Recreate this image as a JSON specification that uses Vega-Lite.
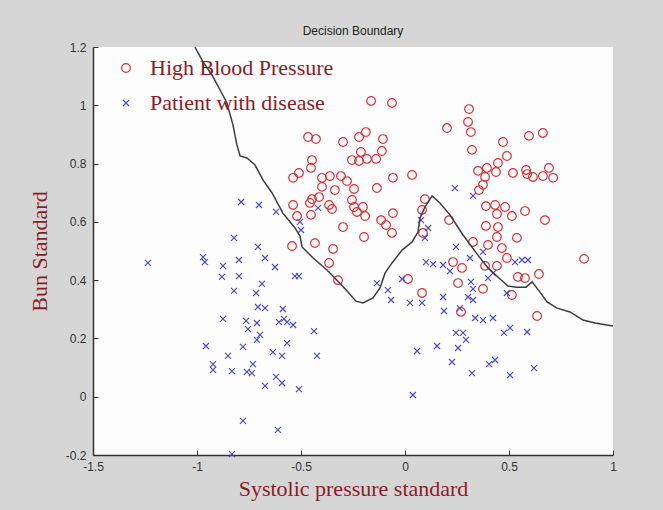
{
  "$schema": "https://vega.github.io/schema/vega-lite/v6.json",
  "width": 520,
  "height": 408,
  "autosize": {"type": "none"},
  "padding": {"left": 93, "top": 47, "right": 50, "bottom": 55},
  "background": "#d6d6d6",
  "config": {"view": {"fill": "#fdfdfd", "stroke": null}},
  "title": {"text": "Decision Boundary", "fontSize": 12, "font": "Liberation Sans", "fontWeight": "normal", "color": "#222222", "offset": 3},
  "datasets": {
    "points": [
      {"x": -0.163, "y": 1.015, "c": "High Blood Pressure"},
      {"x": -0.0625, "y": 1.008, "c": "High Blood Pressure"},
      {"x": -0.466, "y": 0.891, "c": "High Blood Pressure"},
      {"x": -0.428, "y": 0.884, "c": "High Blood Pressure"},
      {"x": -0.298, "y": 0.874, "c": "High Blood Pressure"},
      {"x": -0.221, "y": 0.891, "c": "High Blood Pressure"},
      {"x": -0.188, "y": 0.908, "c": "High Blood Pressure"},
      {"x": -0.106, "y": 0.884, "c": "High Blood Pressure"},
      {"x": -0.111, "y": 0.843, "c": "High Blood Pressure"},
      {"x": -0.212, "y": 0.84, "c": "High Blood Pressure"},
      {"x": -0.255, "y": 0.812, "c": "High Blood Pressure"},
      {"x": -0.221, "y": 0.809, "c": "High Blood Pressure"},
      {"x": -0.183, "y": 0.816, "c": "High Blood Pressure"},
      {"x": -0.139, "y": 0.816, "c": "High Blood Pressure"},
      {"x": -0.447, "y": 0.812, "c": "High Blood Pressure"},
      {"x": -0.452, "y": 0.785, "c": "High Blood Pressure"},
      {"x": -0.538, "y": 0.751, "c": "High Blood Pressure"},
      {"x": -0.51, "y": 0.768, "c": "High Blood Pressure"},
      {"x": -0.399, "y": 0.751, "c": "High Blood Pressure"},
      {"x": -0.361, "y": 0.757, "c": "High Blood Pressure"},
      {"x": -0.308, "y": 0.757, "c": "High Blood Pressure"},
      {"x": -0.279, "y": 0.74, "c": "High Blood Pressure"},
      {"x": -0.399, "y": 0.72, "c": "High Blood Pressure"},
      {"x": -0.337, "y": 0.709, "c": "High Blood Pressure"},
      {"x": -0.245, "y": 0.713, "c": "High Blood Pressure"},
      {"x": -0.135, "y": 0.716, "c": "High Blood Pressure"},
      {"x": -0.058, "y": 0.751, "c": "High Blood Pressure"},
      {"x": 0.034, "y": 0.761, "c": "High Blood Pressure"},
      {"x": -0.447, "y": 0.678, "c": "High Blood Pressure"},
      {"x": -0.413, "y": 0.685, "c": "High Blood Pressure"},
      {"x": -0.538, "y": 0.658, "c": "High Blood Pressure"},
      {"x": -0.457, "y": 0.665, "c": "High Blood Pressure"},
      {"x": -0.365, "y": 0.658, "c": "High Blood Pressure"},
      {"x": -0.255, "y": 0.675, "c": "High Blood Pressure"},
      {"x": -0.245, "y": 0.651, "c": "High Blood Pressure"},
      {"x": -0.202, "y": 0.651, "c": "High Blood Pressure"},
      {"x": -0.519, "y": 0.62, "c": "High Blood Pressure"},
      {"x": -0.452, "y": 0.624, "c": "High Blood Pressure"},
      {"x": -0.351, "y": 0.644, "c": "High Blood Pressure"},
      {"x": -0.231, "y": 0.634, "c": "High Blood Pressure"},
      {"x": -0.192, "y": 0.62, "c": "High Blood Pressure"},
      {"x": -0.115, "y": 0.606, "c": "High Blood Pressure"},
      {"x": -0.091, "y": 0.589, "c": "High Blood Pressure"},
      {"x": -0.0625, "y": 0.562, "c": "High Blood Pressure"},
      {"x": -0.058, "y": 0.63, "c": "High Blood Pressure"},
      {"x": -0.298, "y": 0.582, "c": "High Blood Pressure"},
      {"x": -0.197, "y": 0.548, "c": "High Blood Pressure"},
      {"x": -0.543, "y": 0.517, "c": "High Blood Pressure"},
      {"x": -0.433, "y": 0.527, "c": "High Blood Pressure"},
      {"x": -0.346, "y": 0.507, "c": "High Blood Pressure"},
      {"x": -0.365, "y": 0.459, "c": "High Blood Pressure"},
      {"x": -0.322, "y": 0.4, "c": "High Blood Pressure"},
      {"x": 0.096, "y": 0.678, "c": "High Blood Pressure"},
      {"x": 0.082, "y": 0.641, "c": "High Blood Pressure"},
      {"x": 0.202, "y": 0.922, "c": "High Blood Pressure"},
      {"x": 0.308, "y": 0.987, "c": "High Blood Pressure"},
      {"x": 0.303, "y": 0.943, "c": "High Blood Pressure"},
      {"x": 0.317, "y": 0.908, "c": "High Blood Pressure"},
      {"x": 0.322, "y": 0.847, "c": "High Blood Pressure"},
      {"x": 0.471, "y": 0.874, "c": "High Blood Pressure"},
      {"x": 0.596, "y": 0.895, "c": "High Blood Pressure"},
      {"x": 0.663, "y": 0.905, "c": "High Blood Pressure"},
      {"x": 0.49, "y": 0.826, "c": "High Blood Pressure"},
      {"x": 0.447, "y": 0.802, "c": "High Blood Pressure"},
      {"x": 0.351, "y": 0.775, "c": "High Blood Pressure"},
      {"x": 0.394, "y": 0.785, "c": "High Blood Pressure"},
      {"x": 0.4375, "y": 0.771, "c": "High Blood Pressure"},
      {"x": 0.519, "y": 0.768, "c": "High Blood Pressure"},
      {"x": 0.582, "y": 0.778, "c": "High Blood Pressure"},
      {"x": 0.587, "y": 0.764, "c": "High Blood Pressure"},
      {"x": 0.615, "y": 0.754, "c": "High Blood Pressure"},
      {"x": 0.663, "y": 0.757, "c": "High Blood Pressure"},
      {"x": 0.692, "y": 0.785, "c": "High Blood Pressure"},
      {"x": 0.712, "y": 0.751, "c": "High Blood Pressure"},
      {"x": 0.385, "y": 0.754, "c": "High Blood Pressure"},
      {"x": 0.375, "y": 0.727, "c": "High Blood Pressure"},
      {"x": 0.356, "y": 0.709, "c": "High Blood Pressure"},
      {"x": 0.389, "y": 0.654, "c": "High Blood Pressure"},
      {"x": 0.433, "y": 0.658, "c": "High Blood Pressure"},
      {"x": 0.481, "y": 0.651, "c": "High Blood Pressure"},
      {"x": 0.442, "y": 0.627, "c": "High Blood Pressure"},
      {"x": 0.514, "y": 0.62, "c": "High Blood Pressure"},
      {"x": 0.577, "y": 0.637, "c": "High Blood Pressure"},
      {"x": 0.673, "y": 0.606, "c": "High Blood Pressure"},
      {"x": 0.212, "y": 0.606, "c": "High Blood Pressure"},
      {"x": 0.389, "y": 0.586, "c": "High Blood Pressure"},
      {"x": 0.447, "y": 0.582, "c": "High Blood Pressure"},
      {"x": 0.0865, "y": 0.562, "c": "High Blood Pressure"},
      {"x": 0.538, "y": 0.545, "c": "High Blood Pressure"},
      {"x": 0.442, "y": 0.548, "c": "High Blood Pressure"},
      {"x": 0.399, "y": 0.521, "c": "High Blood Pressure"},
      {"x": 0.466, "y": 0.51, "c": "High Blood Pressure"},
      {"x": 0.327, "y": 0.531, "c": "High Blood Pressure"},
      {"x": 0.49, "y": 0.476, "c": "High Blood Pressure"},
      {"x": 0.385, "y": 0.449, "c": "High Blood Pressure"},
      {"x": 0.442, "y": 0.449, "c": "High Blood Pressure"},
      {"x": 0.231, "y": 0.462, "c": "High Blood Pressure"},
      {"x": 0.274, "y": 0.442, "c": "High Blood Pressure"},
      {"x": 0.861, "y": 0.473, "c": "High Blood Pressure"},
      {"x": 0.543, "y": 0.411, "c": "High Blood Pressure"},
      {"x": 0.577, "y": 0.407, "c": "High Blood Pressure"},
      {"x": 0.644, "y": 0.421, "c": "High Blood Pressure"},
      {"x": 0.0144, "y": 0.404, "c": "High Blood Pressure"},
      {"x": 0.255, "y": 0.39, "c": "High Blood Pressure"},
      {"x": 0.375, "y": 0.37, "c": "High Blood Pressure"},
      {"x": 0.082, "y": 0.356, "c": "High Blood Pressure"},
      {"x": 0.514, "y": 0.349, "c": "High Blood Pressure"},
      {"x": 0.269, "y": 0.291, "c": "High Blood Pressure"},
      {"x": 0.635, "y": 0.277, "c": "High Blood Pressure"},
      {"x": -1.236, "y": 0.459, "c": "Patient with disease"},
      {"x": -0.971, "y": 0.479, "c": "Patient with disease"},
      {"x": -0.962, "y": 0.462, "c": "Patient with disease"},
      {"x": -0.788, "y": 0.668, "c": "Patient with disease"},
      {"x": -0.702, "y": 0.658, "c": "Patient with disease"},
      {"x": -0.62, "y": 0.634, "c": "Patient with disease"},
      {"x": -0.822, "y": 0.545, "c": "Patient with disease"},
      {"x": -0.707, "y": 0.514, "c": "Patient with disease"},
      {"x": -0.673, "y": 0.476, "c": "Patient with disease"},
      {"x": -0.625, "y": 0.445, "c": "Patient with disease"},
      {"x": -0.875, "y": 0.449, "c": "Patient with disease"},
      {"x": -0.798, "y": 0.469, "c": "Patient with disease"},
      {"x": -0.88, "y": 0.411, "c": "Patient with disease"},
      {"x": -0.798, "y": 0.414, "c": "Patient with disease"},
      {"x": -0.529, "y": 0.414, "c": "Patient with disease"},
      {"x": -0.51, "y": 0.414, "c": "Patient with disease"},
      {"x": -0.6875, "y": 0.387, "c": "Patient with disease"},
      {"x": -0.822, "y": 0.363, "c": "Patient with disease"},
      {"x": -0.716, "y": 0.356, "c": "Patient with disease"},
      {"x": -0.707, "y": 0.308, "c": "Patient with disease"},
      {"x": -0.673, "y": 0.304, "c": "Patient with disease"},
      {"x": -0.587, "y": 0.301, "c": "Patient with disease"},
      {"x": -0.875, "y": 0.267, "c": "Patient with disease"},
      {"x": -0.764, "y": 0.26, "c": "Patient with disease"},
      {"x": -0.755, "y": 0.232, "c": "Patient with disease"},
      {"x": -0.712, "y": 0.253, "c": "Patient with disease"},
      {"x": -0.606, "y": 0.256, "c": "Patient with disease"},
      {"x": -0.582, "y": 0.267, "c": "Patient with disease"},
      {"x": -0.567, "y": 0.256, "c": "Patient with disease"},
      {"x": -0.538, "y": 0.246, "c": "Patient with disease"},
      {"x": -0.4375, "y": 0.225, "c": "Patient with disease"},
      {"x": -0.697, "y": 0.212, "c": "Patient with disease"},
      {"x": -0.712, "y": 0.195, "c": "Patient with disease"},
      {"x": -0.567, "y": 0.184, "c": "Patient with disease"},
      {"x": -0.957, "y": 0.174, "c": "Patient with disease"},
      {"x": -0.779, "y": 0.171, "c": "Patient with disease"},
      {"x": -0.851, "y": 0.14, "c": "Patient with disease"},
      {"x": -0.635, "y": 0.153, "c": "Patient with disease"},
      {"x": -0.591, "y": 0.14, "c": "Patient with disease"},
      {"x": -0.423, "y": 0.14, "c": "Patient with disease"},
      {"x": -0.731, "y": 0.112, "c": "Patient with disease"},
      {"x": -0.923, "y": 0.112, "c": "Patient with disease"},
      {"x": -0.923, "y": 0.092, "c": "Patient with disease"},
      {"x": -0.832, "y": 0.088, "c": "Patient with disease"},
      {"x": -0.76, "y": 0.085, "c": "Patient with disease"},
      {"x": -0.736, "y": 0.081, "c": "Patient with disease"},
      {"x": -0.62, "y": 0.068, "c": "Patient with disease"},
      {"x": -0.591, "y": 0.047, "c": "Patient with disease"},
      {"x": -0.673, "y": 0.037, "c": "Patient with disease"},
      {"x": -0.51, "y": 0.026, "c": "Patient with disease"},
      {"x": -0.779, "y": -0.083, "c": "Patient with disease"},
      {"x": -0.611, "y": -0.114, "c": "Patient with disease"},
      {"x": -0.832, "y": -0.197, "c": "Patient with disease"},
      {"x": -0.505, "y": 0.6, "c": "Patient with disease"},
      {"x": -0.5, "y": 0.572, "c": "Patient with disease"},
      {"x": -0.418, "y": 0.648, "c": "Patient with disease"},
      {"x": -0.135, "y": 0.39, "c": "Patient with disease"},
      {"x": -0.082, "y": 0.366, "c": "Patient with disease"},
      {"x": -0.067, "y": 0.332, "c": "Patient with disease"},
      {"x": -0.014, "y": 0.404, "c": "Patient with disease"},
      {"x": 0.024, "y": 0.322, "c": "Patient with disease"},
      {"x": 0.082, "y": 0.322, "c": "Patient with disease"},
      {"x": 0.183, "y": 0.342, "c": "Patient with disease"},
      {"x": 0.1875, "y": 0.294, "c": "Patient with disease"},
      {"x": 0.264, "y": 0.304, "c": "Patient with disease"},
      {"x": 0.303, "y": 0.342, "c": "Patient with disease"},
      {"x": 0.327, "y": 0.332, "c": "Patient with disease"},
      {"x": 0.317, "y": 0.394, "c": "Patient with disease"},
      {"x": 0.327, "y": 0.37, "c": "Patient with disease"},
      {"x": 0.399, "y": 0.407, "c": "Patient with disease"},
      {"x": 0.423, "y": 0.424, "c": "Patient with disease"},
      {"x": 0.49, "y": 0.356, "c": "Patient with disease"},
      {"x": 0.529, "y": 0.462, "c": "Patient with disease"},
      {"x": 0.5625, "y": 0.469, "c": "Patient with disease"},
      {"x": 0.591, "y": 0.469, "c": "Patient with disease"},
      {"x": 0.245, "y": 0.514, "c": "Patient with disease"},
      {"x": 0.101, "y": 0.462, "c": "Patient with disease"},
      {"x": 0.135, "y": 0.455, "c": "Patient with disease"},
      {"x": 0.183, "y": 0.452, "c": "Patient with disease"},
      {"x": 0.216, "y": 0.431, "c": "Patient with disease"},
      {"x": 0.3125, "y": 0.476, "c": "Patient with disease"},
      {"x": 0.375, "y": 0.497, "c": "Patient with disease"},
      {"x": 0.337, "y": 0.27, "c": "Patient with disease"},
      {"x": 0.375, "y": 0.263, "c": "Patient with disease"},
      {"x": 0.423, "y": 0.27, "c": "Patient with disease"},
      {"x": 0.245, "y": 0.219, "c": "Patient with disease"},
      {"x": 0.279, "y": 0.219, "c": "Patient with disease"},
      {"x": 0.293, "y": 0.195, "c": "Patient with disease"},
      {"x": 0.154, "y": 0.174, "c": "Patient with disease"},
      {"x": 0.058, "y": 0.157, "c": "Patient with disease"},
      {"x": 0.255, "y": 0.167, "c": "Patient with disease"},
      {"x": 0.226, "y": 0.119, "c": "Patient with disease"},
      {"x": 0.322, "y": 0.081, "c": "Patient with disease"},
      {"x": 0.404, "y": 0.112, "c": "Patient with disease"},
      {"x": 0.433, "y": 0.126, "c": "Patient with disease"},
      {"x": 0.476, "y": 0.219, "c": "Patient with disease"},
      {"x": 0.505, "y": 0.236, "c": "Patient with disease"},
      {"x": 0.587, "y": 0.222, "c": "Patient with disease"},
      {"x": 0.505, "y": 0.074, "c": "Patient with disease"},
      {"x": 0.62, "y": 0.098, "c": "Patient with disease"},
      {"x": 0.038, "y": 0.006, "c": "Patient with disease"},
      {"x": 0.24, "y": 0.716, "c": "Patient with disease"},
      {"x": 0.327, "y": 0.689, "c": "Patient with disease"},
      {"x": 0.077, "y": 0.606, "c": "Patient with disease"},
      {"x": 0.111, "y": 0.579, "c": "Patient with disease"},
      {"x": 0.096, "y": 0.545, "c": "Patient with disease"}
    ],
    "boundary": [
      {"x": -1.01, "y": 1.2}, {"x": -0.971, "y": 1.149}, {"x": -0.928, "y": 1.104},
      {"x": -0.889, "y": 1.0525}, {"x": -0.856, "y": 1.008}, {"x": -0.827, "y": 0.932},
      {"x": -0.808, "y": 0.864}, {"x": -0.793, "y": 0.826}, {"x": -0.76, "y": 0.819},
      {"x": -0.721, "y": 0.795}, {"x": -0.683, "y": 0.744}, {"x": -0.639, "y": 0.699},
      {"x": -0.587, "y": 0.63}, {"x": -0.529, "y": 0.579}, {"x": -0.505, "y": 0.551},
      {"x": -0.495, "y": 0.514}, {"x": -0.442, "y": 0.476}, {"x": -0.375, "y": 0.435},
      {"x": -0.327, "y": 0.4}, {"x": -0.274, "y": 0.359}, {"x": -0.236, "y": 0.328},
      {"x": -0.202, "y": 0.322}, {"x": -0.154, "y": 0.339}, {"x": -0.12, "y": 0.373},
      {"x": -0.096, "y": 0.424}, {"x": -0.0625, "y": 0.459}, {"x": -0.014, "y": 0.503},
      {"x": 0.034, "y": 0.531}, {"x": 0.0625, "y": 0.565}, {"x": 0.072, "y": 0.613},
      {"x": 0.096, "y": 0.651}, {"x": 0.13, "y": 0.689}, {"x": 0.168, "y": 0.665},
      {"x": 0.216, "y": 0.624}, {"x": 0.279, "y": 0.555}, {"x": 0.346, "y": 0.49},
      {"x": 0.399, "y": 0.442}, {"x": 0.457, "y": 0.404}, {"x": 0.495, "y": 0.38},
      {"x": 0.538, "y": 0.376}, {"x": 0.582, "y": 0.376}, {"x": 0.611, "y": 0.394},
      {"x": 0.649, "y": 0.359}, {"x": 0.683, "y": 0.325}, {"x": 0.731, "y": 0.304},
      {"x": 0.793, "y": 0.291}, {"x": 0.856, "y": 0.263}, {"x": 0.913, "y": 0.253},
      {"x": 1.0, "y": 0.243}
    ]
  },
  "encoding": {
    "x": {
      "field": "x", "type": "quantitative",
      "scale": {"domain": [-1.5, 1], "nice": false, "zero": false},
      "axis": {
        "title": "Systolic pressure standard",
        "values": [-1.5, -1, -0.5, 0, 0.5, 1],
        "labelExpr": "'' + datum.value",
        "grid": false, "labelFlush": false, "labelOverlap": false,
        "domainColor": "#333333", "domainWidth": 1.5,
        "tickColor": "#333333", "tickSize": -5, "labelPadding": 11,
        "labelFont": "Liberation Sans", "labelFontSize": 12, "labelColor": "#333333",
        "titleFont": "Liberation Serif", "titleFontSize": 22, "titleFontWeight": "normal",
        "titleColor": "#8b1c26", "titlePadding": 6
      }
    },
    "y": {
      "field": "y", "type": "quantitative",
      "scale": {"domain": [-0.2, 1.2], "nice": false, "zero": false},
      "axis": {
        "title": "Bun Standard",
        "values": [-0.2, 0, 0.2, 0.4, 0.6, 0.8, 1, 1.2],
        "labelExpr": "'' + datum.value",
        "grid": false, "labelOverlap": false, "labelFlush": false,
        "domainColor": "#333333", "domainWidth": 1.5,
        "tickColor": "#333333", "tickSize": -5, "labelPadding": 12,
        "labelFont": "Liberation Sans", "labelFontSize": 12, "labelColor": "#333333",
        "titleFont": "Liberation Serif", "titleFontSize": 22, "titleFontWeight": "normal",
        "titleColor": "#8b1c26", "titlePadding": 14
      }
    }
  },
  "layer": [
    {
      "data": {"name": "points"},
      "mark": {"type": "point", "strokeWidth": 1.2, "opacity": 1, "filled": false},
      "encoding": {
        "color": {
          "field": "c", "type": "nominal",
          "scale": {"domain": ["High Blood Pressure", "Patient with disease"], "range": ["#d8303a", "#4b4bc2"]},
          "legend": {
            "title": null, "orient": "none", "legendX": 22, "legendY": 10,
            "labelFont": "Liberation Serif", "labelFontSize": 22, "labelColor": "#8b1c26",
            "labelLimit": 0, "labelOffset": 13, "rowPadding": 13, "symbolSize": 55, "symbolStrokeWidth": 1.2,
            "padding": 0
          }
        },
        "shape": {
          "field": "c", "type": "nominal",
          "scale": {"domain": ["High Blood Pressure", "Patient with disease"], "range": ["circle", "M-1,-1L1,1M1,-1L-1,1"]}
        },
        "size": {
          "field": "c", "type": "nominal",
          "scale": {"domain": ["High Blood Pressure", "Patient with disease"], "range": [75, 36]},
          "legend": null
        }
      }
    },
    {
      "data": {"name": "boundary"},
      "mark": {"type": "line", "color": "#3c3c3c", "strokeWidth": 1.5},
      "encoding": {}
    }
  ]
}
